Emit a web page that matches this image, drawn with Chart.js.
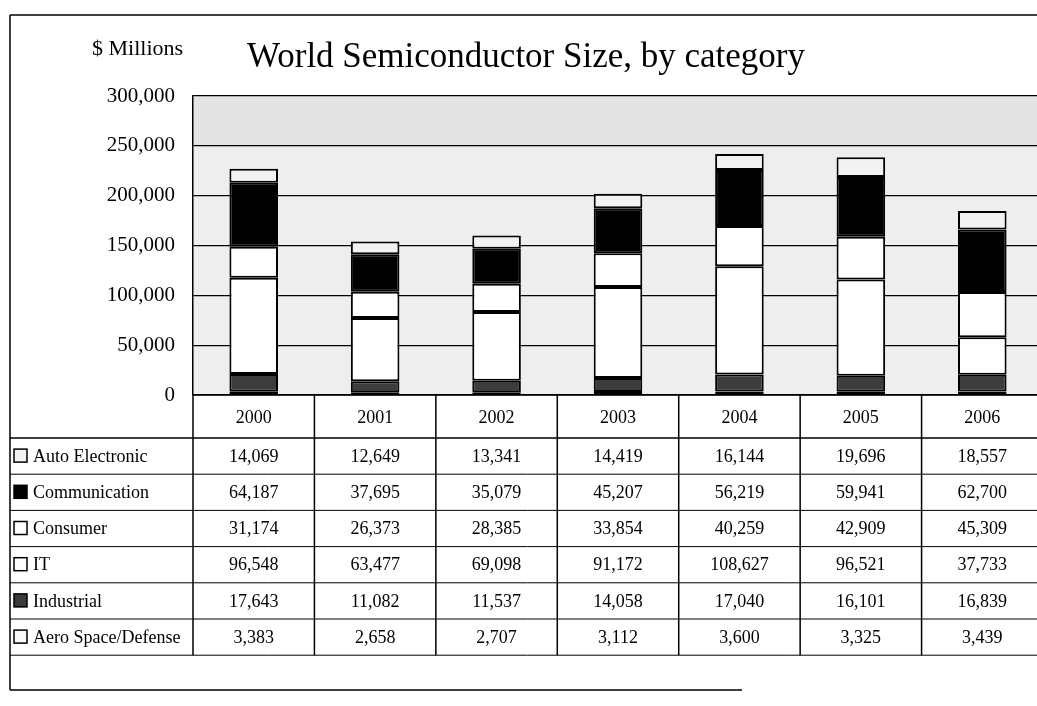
<!DOCTYPE html>
<html>
<head>
<meta charset="utf-8">
<script src="https://cdn.jsdelivr.net/npm/chart.js@4"></script>
<style>
  html, body { margin: 0; padding: 0; background: #fff; overflow: hidden; }
  #wrap { width: 1045px; height: 706px; }
</style>
</head>
<body>
<div id="wrap"><canvas id="chart" width="1045" height="706"></canvas></div>
<script>
// ---- data ----
const years = ['2000', '2001', '2002', '2003', '2004', '2005', '2006'];
const autoElectronic = [14069, 12649, 13341, 14419, 16144, 19696, 18557];
const communication  = [64187, 37695, 35079, 45207, 56219, 59941, 62700];
const consumer       = [31174, 26373, 28385, 33854, 40259, 42909, 45309];
const itSeries       = [96548, 63477, 69098, 91172, 108627, 96521, 37733];
const industrial     = [17643, 11082, 11537, 14058, 17040, 16101, 16839];
const aeroDefense    = [3383, 2658, 2707, 3112, 3600, 3325, 3439];
const yTicks = [0, 50000, 100000, 150000, 200000, 250000, 300000];

const serif = '"Liberation Serif", "DejaVu Serif", serif';
const fmt = v => v.toLocaleString('en-US');

// bottom of stack first
const series = [
  { label: 'Aero Space/Defense', data: aeroDefense,    color: '#fafafa' },
  { label: 'Industrial',         data: industrial,     color: '#3c3c3c' },
  { label: 'IT',                 data: itSeries,       color: '#ffffff' },
  { label: 'Consumer',           data: consumer,       color: '#ffffff' },
  { label: 'Communication',      data: communication,  color: '#000000' },
  { label: 'Auto Electronic',    data: autoElectronic, color: '#f2f2f2' }
];

// plot background + title + data table
const frame = {
  id: 'frame',
  beforeDraw(chart) {
    const { ctx, chartArea: a } = chart;
    ctx.save();
    ctx.fillStyle = '#eeeeee';
    ctx.fillRect(a.left, a.top, a.right - a.left, a.bottom - a.top);
    ctx.fillStyle = '#e4e4e4';
    const y250 = chart.scales.y.getPixelForValue(250000);
    ctx.fillRect(a.left, a.top, a.right - a.left, y250 - a.top);
    ctx.restore();
  },
  afterDraw(chart) {
    const { ctx, chartArea: a } = chart;
    const x = chart.scales.x;
    const colW = (a.right - a.left) / years.length;
    ctx.save();
    ctx.strokeStyle = '#000';
    ctx.fillStyle = '#000';

    // titles
    ctx.textBaseline = 'middle';
    ctx.textAlign = 'left';
    ctx.font = '22px ' + serif;
    ctx.fillText('$ Millions', 92, 49);
    ctx.font = '35px ' + serif;
    ctx.textAlign = 'center';
    ctx.fillText('World Semiconductor Size, by category', 526, 58);

    // outer frame
    ctx.lineWidth = 1.5;
    ctx.beginPath();
    ctx.moveTo(10, 15); ctx.lineTo(1037, 15);
    ctx.moveTo(10, 15); ctx.lineTo(10, 690);
    ctx.moveTo(10, 690); ctx.lineTo(742, 690);
    ctx.stroke();

    // table grid
    const headTop = a.bottom, headBot = 438, rowH = 36.2;
    const nRows = series.length;
    const tableBot = headBot + rowH * nRows;
    ctx.lineWidth = 1.5;
    ctx.beginPath();
    ctx.moveTo(a.left, headTop); ctx.lineTo(1045, headTop);
    ctx.moveTo(10, headBot); ctx.lineTo(1045, headBot);
    for (let i = 0; i <= years.length; i++) {
      const bx = a.left + i * colW;
      ctx.moveTo(bx, headTop); ctx.lineTo(bx, tableBot);
    }
    ctx.stroke();
    ctx.lineWidth = 1;
    ctx.beginPath();
    for (let r = 1; r <= nRows; r++) {
      const ly = headBot + r * rowH;
      ctx.moveTo(10, ly); ctx.lineTo(1045, ly);
    }
    ctx.stroke();

    // year headers
    ctx.font = '18px ' + serif;
    ctx.textAlign = 'center';
    years.forEach((yr, i) => ctx.fillText(yr, x.getPixelForValue(i), (headTop + headBot) / 2 + 2));

    // rows (top of stack first)
    const rows = series.slice().reverse();
    rows.forEach((s, r) => {
      const cy = headBot + rowH * r + rowH / 2;
      ctx.fillStyle = s.color;
      ctx.fillRect(14, cy - 7, 13, 13);
      ctx.lineWidth = 1.5;
      ctx.strokeRect(14, cy - 7, 13, 13);
      ctx.fillStyle = '#000';
      ctx.textAlign = 'left';
      ctx.font = '18px ' + serif;
      ctx.fillText(s.label, 33, cy + 1);
      ctx.textAlign = 'center';
      ctx.font = '18px ' + serif;
      s.data.forEach((v, i) => ctx.fillText(fmt(v), x.getPixelForValue(i), cy + 1));
    });
    ctx.restore();
  }
};

new Chart(document.getElementById('chart'), {
  type: 'bar',
  data: {
    labels: years,
    datasets: series.map(s => ({
      label: s.label,
      data: s.data,
      backgroundColor: s.color,
      borderColor: '#000',
      borderWidth: 2,
      borderSkipped: false,
      categoryPercentage: 1,
      barPercentage: 0.4
    }))
  },
  options: {
    responsive: false,
    animation: false,
    layout: { padding: { top: 96, bottom: 311, left: 0, right: 2 } },
    plugins: { legend: { display: false }, tooltip: { enabled: false }, title: { display: false } },
    scales: {
      x: { stacked: true, display: false },
      y: {
        stacked: true,
        min: 0, max: 300000,
        afterFit: s => { s.width = 193; },
        afterBuildTicks: s => { s.ticks = yTicks.map(v => ({ value: v })); },
        border: { display: true, color: '#000', width: 1.5 },
        grid: { color: '#000', lineWidth: 1.2, drawTicks: false },
        ticks: { color: '#000', padding: 18, font: { family: serif, size: 21 }, callback: v => fmt(v) }
      }
    }
  },
  plugins: [frame]
});
</script>
</body>
</html>
